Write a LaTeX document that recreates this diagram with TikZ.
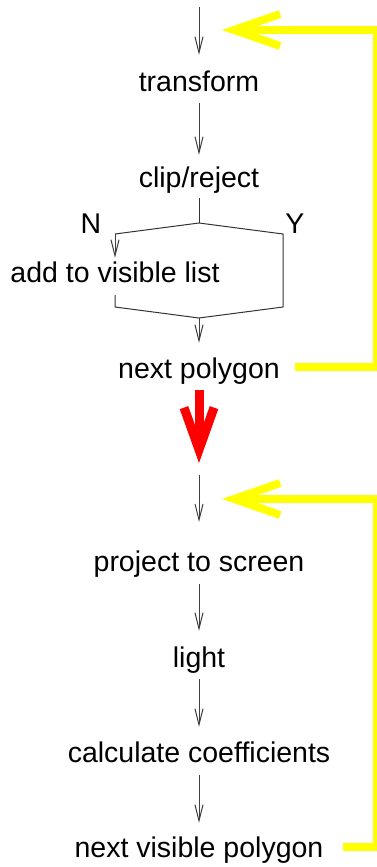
\documentclass[tikz,border=0pt]{standalone}
\usepackage{fontspec}
\setmainfont{Liberation Sans}
\usetikzlibrary{arrows.meta}
\definecolor{loopyellow}{RGB}{255,255,0}
\definecolor{carryred}{RGB}{255,0,0}
\begin{document}
\begin{tikzpicture}[x=1pt,y=-1pt,
  lbl/.style={inner sep=0pt, anchor=base, font=\fontsize{28.5}{34}\selectfont, text height=21pt, text depth=7pt},
  flow/.style={draw=black!75, line width=1pt, -{Straight Barb[length=16pt,width=8pt]}},
  wire/.style={draw=black!80, line width=1pt, line join=miter},
  loopback/.style={draw=loopyellow, line width=8pt, line join=miter, -{Straight Barb[length=46pt,width=32pt]}},
  carry/.style={draw=carryred, line width=9pt, -{Straight Barb[length=42pt,width=30pt]}}]
\useasboundingbox (0,0) rectangle (377,867);
% first block
\coordinate (top1) at (199,7);
\node[lbl] (transform) at (199,91) {transform};
\node[lbl] (clip) at (199,187) {clip/reject};
\node[lbl] (add) at (115,282) {add to visible list};
\node[lbl] (nextp) at (199,378) {next polygon};
\node[lbl] (N) at (91,233) {N};
\node[lbl] (Y) at (295,233) {Y};
\coordinate (split) at (199,223);
\coordinate (nl) at (115,234);
\coordinate (yr) at (283,234);
\coordinate (yb) at (283,307);
\coordinate (lt) at (115,295);
\coordinate (lb) at (115,307);
\coordinate (join) at (199,318);
\draw[flow, shorten >=15pt] (top1) -- (transform.north);
\draw[flow, shorten <=5pt, shorten >=11pt] (transform.south) -- (clip.north);
\draw[wire, shorten <=4pt] (clip.south) -- (split);
\draw[wire] (nl) -- (split) -- (yr) -- (yb) -- (join) -- (lb) -- (lt);
\draw[flow, shorten >=3pt] (nl) -- (add.north);
\draw[flow, shorten >=14pt] (join) -- (nextp.north);
% loop back 1
\coordinate (ys1) at (295,367);
\coordinate (yc1) at (377,367);
\coordinate (yc2) at (377,30);
\coordinate (ytip1) at (222,30);
\draw[loopback] (ys1) -- (yc1) -- (yc2) -- (ytip1);
% transition
\coordinate (top2) at (199,463);
\draw[carry, shorten <=5pt] (nextp.south) -- (top2);
% second block
\coordinate (top2s) at (199,475);
\coordinate (top2e) at (199,522);
\node[lbl] (proj) at (199,571) {project to screen};
\node[lbl] (light) at (199,667) {light};
\node[lbl] (calc) at (199,762) {calculate coefficients};
\node[lbl] (nextv) at (199,857) {next visible polygon};
\draw[flow] (top2s) -- (top2e);
\draw[flow, shorten <=6pt, shorten >=15pt] (proj.south) -- (light.north);
\draw[flow, shorten <=5pt, shorten >=14pt] (light.south) -- (calc.north);
\draw[flow, shorten <=6pt, shorten >=13pt] (calc.south) -- (nextv.north);
% loop back 2
\coordinate (ys2) at (343,847);
\coordinate (yc3) at (377,847);
\coordinate (yc4) at (377,499);
\coordinate (ytip2) at (222,499);
\draw[loopback] (ys2) -- (yc3) -- (yc4) -- (ytip2);
\end{tikzpicture}
\end{document}
